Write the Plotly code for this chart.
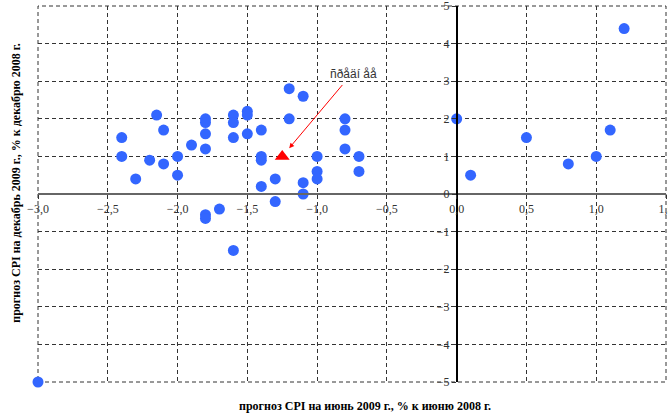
import plotly.graph_objects as go

# forecast CPI June 2009 (% to June 2008) vs Dec 2009 (% to Dec 2008)
x_vals = [-3.0, -2.4, -2.4, -2.3, -2.2, -2.15, -2.1, -2.1, -2.0, -2.0,
          -1.9, -1.8, -1.8, -1.8, -1.8, -1.8, -1.8, -1.7, -1.6, -1.6,
          -1.6, -1.6, -1.5, -1.5, -1.5, -1.4, -1.4, -1.4, -1.4, -1.3,
          -1.3, -1.2, -1.2, -1.1, -1.1, -1.1, -1.0, -1.0, -1.0, -0.8,
          -0.8, -0.8, -0.7, -0.7, 0.0, 0.1, 0.5, 0.8, 1.0, 1.1, 1.2]
y_vals = [-5.0, 1.5, 1.0, 0.4, 0.9, 2.1, 1.7, 0.8, 1.0, 0.5,
          1.3, 2.0, 1.9, 1.6, 1.2, -0.55, -0.65, -0.4, -1.5, 2.1,
          1.9, 1.5, 2.2, 2.1, 1.6, 1.7, 1.0, 0.9, 0.2, 0.4,
          -0.2, 2.8, 2.0, 2.6, 0.3, 0.0, 1.0, 0.6, 0.4, 2.0,
          1.7, 1.2, 1.0, 0.6, 2.0, 0.5, 1.5, 0.8, 1.0, 1.7, 4.4]

mean_x = [-1.25]
mean_y = [1.0]
mean_label = "ñðåäí åå"

x_title = "прогноз CPI на июнь 2009 г., % к июню 2008 г."
y_title = "прогноз CPI на декабрь 2009 г., % к декабрю 2008 г."

x_ticks = [-3.0, -2.5, -2.0, -1.5, -1.0, -0.5, 0.0, 0.5, 1.0, 1.5]
y_ticks = [-5, -4, -3, -2, -1, 0, 1, 2, 3, 4, 5]

serif = "Liberation Serif, Times New Roman, serif"
grid_dash = "4px,3px"
grid_color = "#333333"

fig = go.Figure()
fig.add_trace(go.Scatter(
    x=x_vals, y=y_vals, mode="markers",
    marker=dict(color="#3366ff", size=11, line=dict(width=0)),
    showlegend=False, cliponaxis=False))
fig.add_trace(go.Scatter(
    x=mean_x, y=mean_y, mode="markers",
    marker=dict(color="#ff0000", size=13, symbol="triangle-up", line=dict(width=0)),
    showlegend=False, cliponaxis=False))

# dashed frame (edge gridlines that plotly clips)
fig.add_shape(type="rect", xref="paper", yref="paper", x0=0, x1=1, y0=0, y1=1,
              line=dict(color=grid_color, width=1, dash=grid_dash), layer="below")

fig.add_annotation(x=-1.2, y=1.22, ax=-0.81, ay=2.94, xref="x", yref="y",
                   axref="x", ayref="y", text="", showarrow=True,
                   arrowhead=2, arrowsize=1, arrowwidth=1, arrowcolor="#ff0000")
fig.add_annotation(x=-0.74, y=3.18, xref="x", yref="y", text=mean_label,
                   showarrow=False, font=dict(family="Liberation Sans, Arial", size=12, color="#333333"))

fig.add_annotation(x=0.52, y=-0.063, xref="paper", yref="paper", yanchor="middle",
                   text="<b>" + x_title + "</b>", showarrow=False,
                   font=dict(family=serif, size=12, color="#000000"))
fig.add_annotation(x=-0.035, y=0.53, xref="paper", yref="paper", xanchor="center",
                   text="<b>" + y_title + "</b>", showarrow=False, textangle=-90,
                   font=dict(family=serif, size=12, color="#000000"))

fig.update_layout(
    width=668, height=416,
    margin=dict(l=38, r=2, t=6, b=34, autoexpand=False),
    paper_bgcolor="white", plot_bgcolor="white",
    separators=", ",
    xaxis=dict(range=[-3, 1.5], tickvals=x_ticks, tickformat=".1f",
               anchor="free", position=0.5, automargin=False, ticklabeloverflow="allow",
               showgrid=True, gridcolor=grid_color, griddash=grid_dash, gridwidth=1,
               zeroline=False, showline=True, linecolor="#666666", linewidth=1.5,
               ticks="outside", ticklen=4, tickcolor="#333333",
               tickfont=dict(family=serif, size=12, color="#333333")),
    yaxis=dict(range=[-5, 5], tickvals=y_ticks,
               anchor="free", position=0.6667, automargin=False, ticklabeloverflow="allow",
               showgrid=True, gridcolor=grid_color, griddash=grid_dash, gridwidth=1,
               zeroline=False, showline=True, linecolor="#000000", linewidth=1.5,
               ticks="outside", ticklen=4, tickcolor="#333333",
               tickfont=dict(family=serif, size=12, color="#333333")),
)

fig.write_html("out.html", config={"displayModeBar": False},
               post_script="document.body.style.margin='0';document.body.style.overflow='hidden';")
